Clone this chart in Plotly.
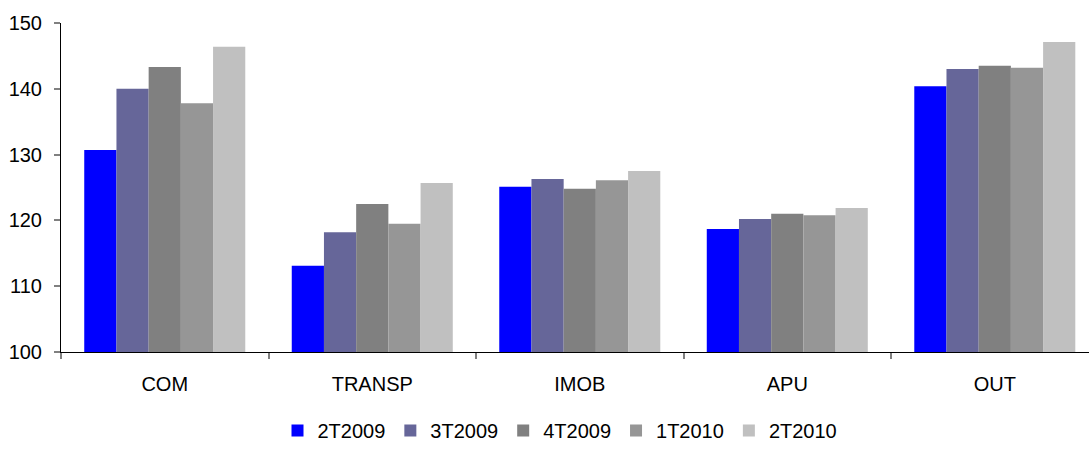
import plotly.graph_objects as go

categories = ["COM", "TRANSP", "IMOB", "APU", "OUT"]
series_names = ["2T2009", "3T2009", "4T2009", "1T2010", "2T2010"]
v_2t2009 = [130.7, 113.1, 125.1, 118.7, 140.4]
v_3t2009 = [140.0, 118.2, 126.3, 120.2, 143.0]
v_4t2009 = [143.3, 122.5, 124.8, 121.0, 143.5]
v_1t2010 = [137.8, 119.5, 126.1, 120.8, 143.2]
v_2t2010 = [146.4, 125.7, 127.5, 121.9, 147.1]
series_values = [v_2t2009, v_3t2009, v_4t2009, v_1t2010, v_2t2010]
colors = ["#0000FF", "#666699", "#808080", "#969696", "#C0C0C0"]
y_ticks = [100, 110, 120, 130, 140, 150]

FONT = "Liberation Sans, Arial, sans-serif"

fig = go.Figure()
for name, vals, col in zip(series_names, series_values, colors):
    fig.add_trace(go.Bar(
        name=name, x=categories, y=vals, marker=dict(color=col, line=dict(width=0)),
    ))

fig.update_layout(
    width=1089, height=450,
    margin=dict(l=61, r=0, t=23, b=98),
    paper_bgcolor="white", plot_bgcolor="white",
    barmode="group", bargap=0.224, bargroupgap=0,
    font=dict(family=FONT, size=20, color="black"),
    showlegend=True,
    legend=dict(
        orientation="h", xref="container", yref="container",
        x=560 / 1089, xanchor="center", y=-5 / 450, yanchor="bottom",
        font=dict(family=FONT, size=20, color="black"),
        itemwidth=30, traceorder="normal", bgcolor="rgba(0,0,0,0)",
    ),
)

fig.update_xaxes(
    range=[-0.5, 4.454], showline=True, linecolor="black", linewidth=1,
    ticks="outside", tickson="boundaries", ticklen=6, tickcolor="#808080", tickwidth=2,
    showgrid=False, ticklabelstandoff=14, tickfont=dict(size=20),
)
fig.update_yaxes(
    range=[100, 150], tickvals=y_ticks, showline=True, linecolor="black", linewidth=1,
    ticks="outside", ticklen=6, tickcolor="#808080", tickwidth=2,
    showgrid=False, zeroline=False, ticklabelstandoff=8, tickfont=dict(size=20),
)

fig.write_html("out.html")
